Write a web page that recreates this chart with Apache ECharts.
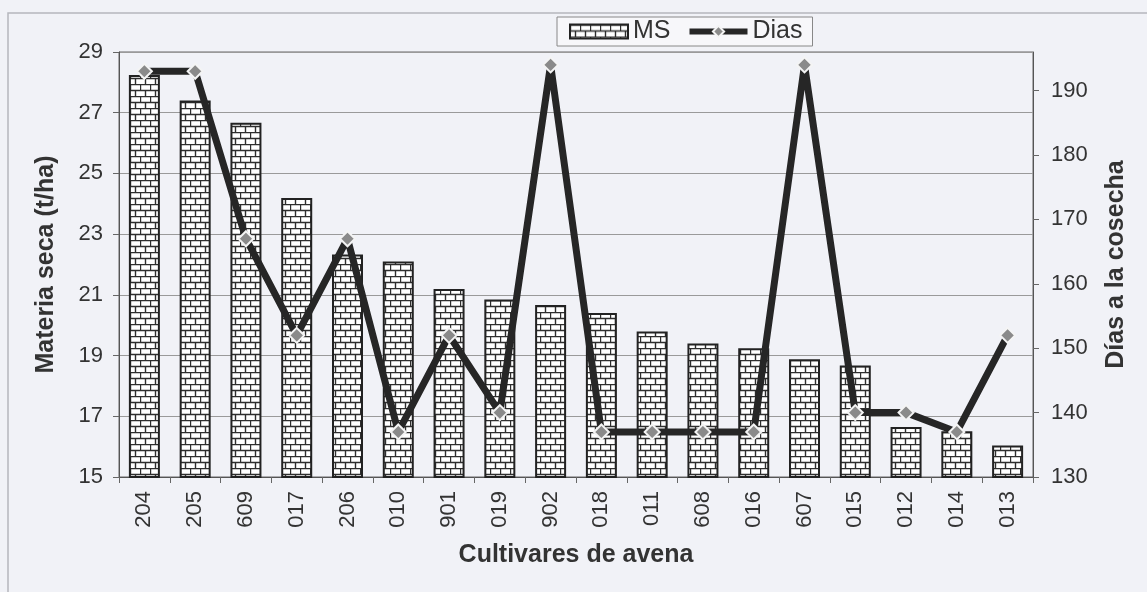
<!DOCTYPE html>
<html>
<head>
<meta charset="utf-8">
<script src="https://cdn.jsdelivr.net/npm/echarts@6/dist/echarts.min.js"></script>
<style>
  html, body { margin: 0; padding: 0; background: #f1f2f7; }
  #chart { width: 1147px; height: 592px; }
</style>
</head>
<body>
<div id="chart"></div>
<script>
// cultivares (eje x)
const cultivares = ['204', '205', '609', '017', '206', '010', '901', '019', '902',
  '018', '011', '608', '016', '607', '015', '012', '014', '013'];
// materia seca (t/ha)
const materiaSeca = [28.24, 27.40, 26.67, 24.19, 22.33, 22.10, 21.19, 20.85, 20.67,
  20.40, 19.79, 19.40, 19.24, 18.88, 18.67, 16.65, 16.51, 16.04];
// dias a la cosecha
const dias = [193, 193, 167, 152, 167, 137, 152, 140, 194,
  137, 137, 137, 137, 194, 140, 140, 137, 152];

// patron de ladrillos para las barras
function brickPattern() {
  const c = document.createElement('canvas');
  c.width = 10;
  c.height = 12;
  const ctx = c.getContext('2d');
  ctx.fillStyle = '#ffffff';
  ctx.fillRect(0, 0, 10, 12);
  ctx.strokeStyle = '#2e2e2e';
  ctx.lineWidth = 1.4;
  ctx.beginPath();
  ctx.moveTo(0, 0.5); ctx.lineTo(10, 0.5);
  ctx.moveTo(0, 6.5); ctx.lineTo(10, 6.5);
  ctx.moveTo(0.5, 0); ctx.lineTo(0.5, 6);
  ctx.moveTo(5.5, 6); ctx.lineTo(5.5, 12);
  ctx.stroke();
  return c;
}

const chart = echarts.init(document.getElementById('chart'));

const axisText = { color: '#333', fontSize: 22, fontFamily: 'Liberation Sans' };
const nameText = { color: '#333', fontSize: 25, fontWeight: 'bold', fontFamily: 'Liberation Sans' };

const option = {
  backgroundColor: '#f1f2f7',
  animation: false,
  graphic: [
    {
      type: 'rect',
      shape: { x: 8, y: 13, width: 1300, height: 800 },
      style: { fill: 'none', stroke: '#b5b7bd', lineWidth: 1.5 },
      silent: true
    }
  ],
  grid: {
    left: 119,
    right: 114,
    top: 52,
    bottom: 115,
    show: true,
    borderColor: '#666',
    borderWidth: 1
  },
  legend: {
    left: 557,
    top: 17,
    padding: [2, 10, 2, 12],
    itemGap: 16,
    itemWidth: 58,
    itemHeight: 14,
    backgroundColor: '#f7f7fa',
    borderColor: '#888',
    borderWidth: 1,
    textStyle: { color: '#333', fontSize: 25, fontFamily: 'Liberation Sans' },
    data: [
      { name: 'MS', icon: 'rect' },
      { name: 'Dias', lineStyle: { width: 6, color: '#262626' } }
    ]
  },
  xAxis: {
    type: 'category',
    data: cultivares,
    name: 'Cultivares de avena',
    nameLocation: 'middle',
    nameGap: 66,
    nameTextStyle: nameText,
    axisLine: { lineStyle: { color: '#555', width: 1 } },
    axisTick: { show: true, length: 6, lineStyle: { color: '#666' } },
    axisLabel: Object.assign({ rotate: 90, margin: 14 }, axisText)
  },
  yAxis: [
    {
      type: 'value',
      min: 15,
      max: 29,
      interval: 2,
      name: 'Materia seca (t/ha)',
      nameLocation: 'middle',
      nameGap: 60,
      nameTextStyle: nameText,
      axisLine: { show: true, lineStyle: { color: '#555' } },
      axisTick: { show: true, length: 6, lineStyle: { color: '#666' } },
      axisLabel: Object.assign({ margin: 16 }, axisText),
      splitLine: { lineStyle: { color: '#9a9a9a', width: 1 } }
    },
    {
      type: 'value',
      min: 130,
      max: 196,
      interval: 10,
      name: 'Días a la cosecha',
      nameLocation: 'middle',
      nameGap: 71,
      nameTextStyle: nameText,
      axisLine: { show: true, lineStyle: { color: '#555' } },
      axisTick: { show: true, length: 6, lineStyle: { color: '#666' } },
      axisLabel: Object.assign({ margin: 18, showMaxLabel: false }, axisText),
      splitLine: { show: false }
    }
  ],
  series: [
    {
      name: 'MS',
      type: 'bar',
      data: materiaSeca,
      barWidth: 31,
      itemStyle: {
        color: { image: brickPattern(), repeat: 'repeat' },
        borderColor: '#222',
        borderWidth: 2
      }
    },
    {
      name: 'Dias',
      type: 'line',
      yAxisIndex: 1,
      data: dias,
      symbol: 'diamond',
      symbolSize: 15,
      lineStyle: { color: '#262626', width: 7 },
      itemStyle: { color: '#8a8a8a', borderColor: '#f4f4f4', borderWidth: 2 }
    }
  ]
};

chart.setOption(option);
</script>
</body>
</html>
